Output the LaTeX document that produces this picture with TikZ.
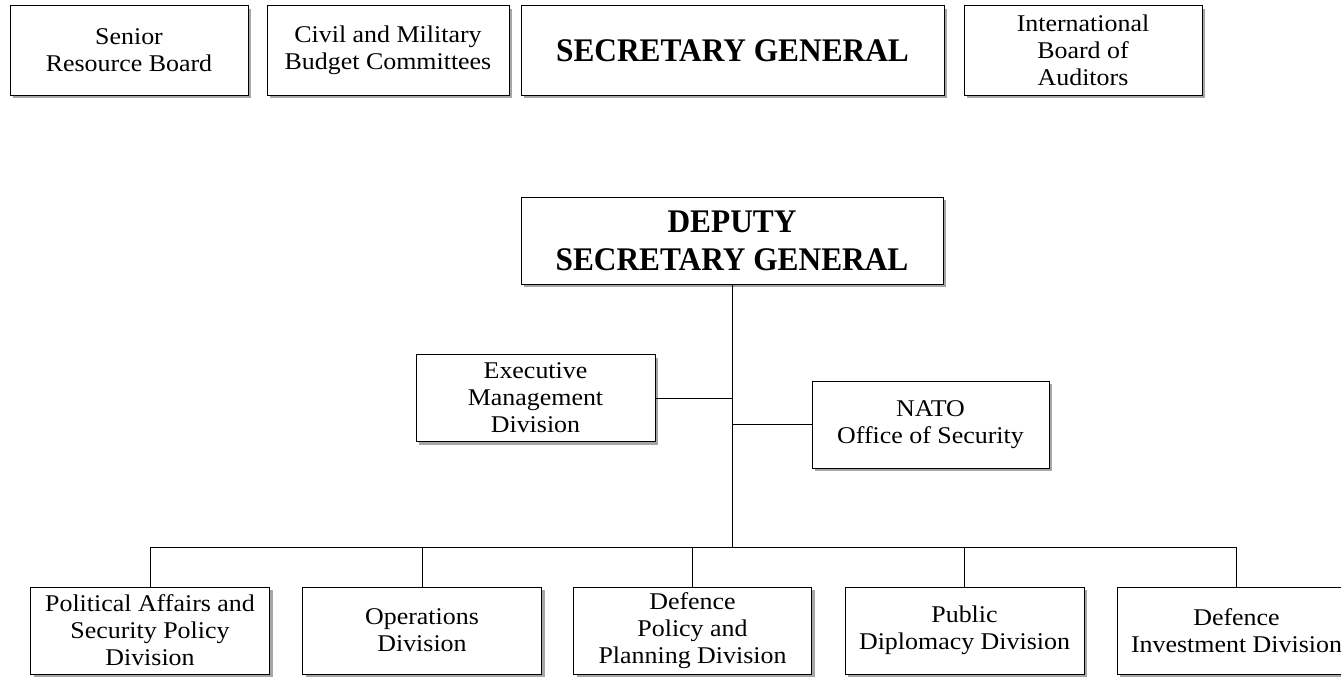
\documentclass[tikz,border=0pt]{standalone}
\usepackage{fontspec}
\setmainfont{Liberation Serif}[FakeStretch=1.08]
\newfontfamily\sgfont{Liberation Serif}[FakeStretch=0.95]
\usetikzlibrary{shadows}
\begin{document}
\begin{tikzpicture}[x=1pt,y=-1pt,
  box/.style={draw=black, line width=1pt, fill=white, inner sep=0pt, align=center,
    minimum height=87pt, font=\fontsize{24}{27}\selectfont,
    drop shadow={shadow xshift=3pt, shadow yshift=-3pt, fill=black!35, opacity=1}},
  bigtxt/.style={font=\sgfont\fontsize{33}{38}\selectfont\bfseries},
  conn/.style={draw=black, line width=1pt}]
\useasboundingbox (0,0) rectangle (1341,677);
% top row
\node[box, minimum width=238pt, minimum height=89pt] (senior) at (129,50.5) {Senior\\Resource Board};
\node[box, minimum width=242pt, minimum height=89pt] (civil) at (388,50.5) {Civil and Military\\Budget Committees};
\node[box, bigtxt, minimum width=423pt, minimum height=89pt] (sg) at (732.5,50.5) {SECRETARY GENERAL};
\node[box, minimum width=238pt, minimum height=89pt] (intl) at (1083,50.5) {International\\Board of\\Auditors};
% deputy
\node[box, bigtxt, minimum width=422pt] (dsg) at (732,240.5) {DEPUTY\\SECRETARY GENERAL};
\node[box, minimum width=239pt] (exec) at (535.5,398) {Executive\\Management\\Division};
\node[box, minimum width=237pt] (nato) at (930.5,424.5) {NATO\\Office of Security};
% bottom row
\node[box, minimum width=239pt] (pol) at (150,630.5) {Political Affairs and\\Security Policy\\Division};
\node[box, minimum width=239pt] (ops) at (422,630.5) {Operations\\Division};
\node[box, minimum width=238pt] (dpp) at (692.5,630.5) {Defence\\Policy and\\Planning Division};
\node[box, minimum width=239pt] (pub) at (964.5,630.5) {Public\\Diplomacy Division};
\node[box, minimum width=239pt] (dinv) at (1236.5,630.5) {Defence\\Investment Division};
% connectors
\coordinate (bus) at (732,547);
\draw[conn] (dsg.south) -- (bus);
\draw[conn] (exec.east) -- (exec.east -| dsg.south);
\draw[conn] (nato.west) -- (nato.west -| dsg.south);
\draw[conn] (pol.north) |- (bus);
\draw[conn] (dinv.north) |- (bus);
\draw[conn] (ops.north) -- (ops.north |- bus);
\draw[conn] (dpp.north) -- (dpp.north |- bus);
\draw[conn] (pub.north) -- (pub.north |- bus);
\end{tikzpicture}
\end{document}
